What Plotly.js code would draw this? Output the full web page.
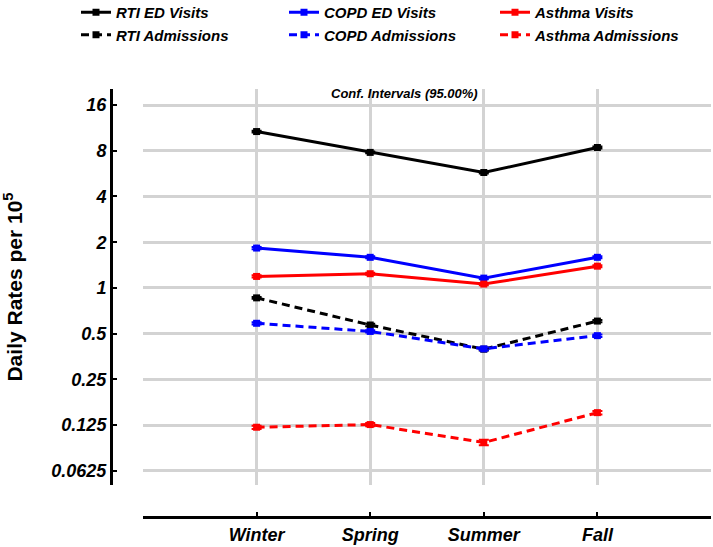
<!DOCTYPE html>
<html>
<head>
<meta charset="utf-8">
<script src="https://cdn.plot.ly/plotly-3.0.1.min.js"></script>
<style>html,body{margin:0;padding:0;background:#fff;}#chart{width:713px;height:547px;}</style>
</head>
<body>
<div id="chart"></div>
<script>
// ---- data ----
const seasons = ["Winter", "Spring", "Summer", "Fall"];
const rtiEdVisits      = [10.7, 7.8, 5.75, 8.4];
const rtiAdmissions    = [0.86, 0.57, 0.395, 0.605];
const copdEdVisits     = [1.83, 1.59, 1.16, 1.59];
const copdAdmissions   = [0.585, 0.517, 0.397, 0.485];
const asthmaVisits     = [1.19, 1.24, 1.06, 1.39];
const asthmaAdmissions = [0.121, 0.126, 0.096, 0.151];
// 95% CI half-widths (approximate)
const rtiEdCI      = [0.15, 0.1, 0.08, 0.12];
const rtiAdmCI     = [0.012, 0.01, 0.008, 0.01];
const copdEdCI     = [0.03, 0.025, 0.02, 0.025];
const copdAdmCI    = [0.01, 0.009, 0.008, 0.009];
const asthmaEdCI   = [0.02, 0.02, 0.018, 0.022];
const asthmaAdmCI  = [0.003, 0.003, 0.004, 0.004];
const yTickVals = [0.0625, 0.125, 0.25, 0.5, 1, 2, 4, 8, 16];
const yTickText = ["0.0625", "0.125", "0.25", "0.5", "1", "2", "4", "8", "16"];

const xIdx = seasons.map((s, i) => i);

function tr(name, y, ci, color, dashed, legend) {
  return {
    type: "scatter", mode: "lines+markers", name: name, x: xIdx, y: y,
    legend: legend,
    line: {color: color, width: 3, dash: dashed ? "8px,5px" : "solid"},
    marker: {symbol: "square", size: 7, color: color},
    error_y: {type: "data", array: ci, visible: true, color: color, thickness: 2, width: 5}
  };
}

const data = [
  tr("RTI ED Visits", rtiEdVisits, rtiEdCI, "#000000", false, "legend"),
  tr("RTI Admissions", rtiAdmissions, rtiAdmCI, "#000000", true, "legend"),
  tr("COPD ED Visits", copdEdVisits, copdEdCI, "#0000ff", false, "legend2"),
  tr("COPD Admissions", copdAdmissions, copdAdmCI, "#0000ff", true, "legend2"),
  tr("Asthma Visits", asthmaVisits, asthmaEdCI, "#ff0000", false, "legend3"),
  tr("Asthma Admissions", asthmaAdmissions, asthmaAdmCI, "#ff0000", true, "legend3")
];

const W = 713, H = 547;
const mL = 100, mR = 2, mT = 85, mB = 25;
const pw = W - mL - mR, ph = H - mT - mB;
const px = x => (x - mL) / pw;
const py = y => (H - mB - y) / ph;
const L2 = Math.log10(2);

const legFont = {family: "Liberation Sans, Arial, sans-serif", size: 15, color: "#000", weight: "bold", style: "italic"};
function leg(x) {
  return {x: px(x), y: py(-4), xanchor: "left", yanchor: "top", orientation: "v",
    font: legFont, bgcolor: "rgba(0,0,0,0)", borderwidth: 0, tracegroupgap: 0,
    itemwidth: 30};
}

const layout = {
  width: W, height: H,
  margin: {l: mL, r: mR, t: mT, b: mB, autoexpand: false},
  paper_bgcolor: "#fff", plot_bgcolor: "#fff",
  showlegend: true,
  legend: leg(76),
  legend2: leg(284),
  legend3: leg(495),
  font: {family: "Liberation Sans, Arial, sans-serif", color: "#000"},
  xaxis: {
    type: "linear", domain: [px(143), 1], range: [-1, 4],
    anchor: "free", position: py(517),
    tickvals: xIdx, ticktext: seasons,
    ticks: "inside", ticklen: 4, tickwidth: 2, tickcolor: "#000",
    showline: true, linecolor: "#000", linewidth: 3,
    showgrid: true, gridcolor: "#d3d3d3", gridwidth: 3,
    zeroline: false,
    tickfont: {size: 18, weight: "bold", style: "italic", color: "#000"}
  },
  yaxis: {
    type: "log", domain: [py(485), py(89)],
    range: [-4.31 * L2, 4.35 * L2],
    anchor: "free", position: px(111),
    tickvals: yTickVals, ticktext: yTickText,
    ticks: "inside", ticklen: 4, tickwidth: 2, tickcolor: "#000",
    showline: true, linecolor: "#000", linewidth: 3,
    showgrid: true, gridcolor: "#d3d3d3", gridwidth: 3,
    zeroline: false,
    tickfont: {size: 18, weight: "bold", style: "italic", color: "#000"},
    title: {text: "Daily Rates per 10<sup>5</sup>", font: {size: 21, weight: "bold", color: "#000"}, standoff: 22}
  },
  annotations: [{
    text: "Conf. Intervals (95.00%)", xref: "paper", yref: "paper",
    x: px(404), y: py(93), xanchor: "center", yanchor: "middle", showarrow: false,
    font: {size: 13, weight: "bold", style: "italic", color: "#000"}
  }]
};

Plotly.newPlot("chart", data, layout, {displayModeBar: false, staticPlot: true});
</script>
</body>
</html>
